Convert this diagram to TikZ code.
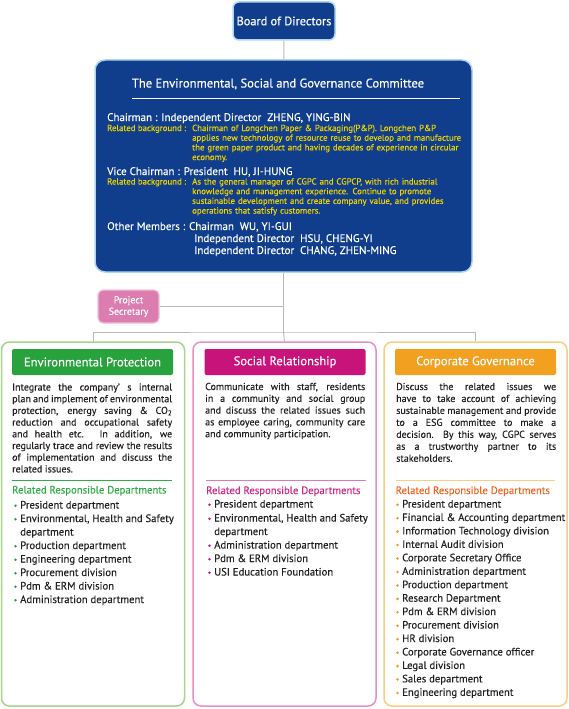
\documentclass[tikz,border=0pt]{standalone}
\usepackage{fontspec}
\setmainfont{PT Sans}[FakeBold=0.25]
\usetikzlibrary{positioning}
\definecolor{navy}{RGB}{16,62,140}
\definecolor{navyedge}{RGB}{175,215,235}
\definecolor{goldtext}{RGB}{240,212,0}
\definecolor{linegray}{RGB}{185,185,185}
\definecolor{ink}{RGB}{35,31,32}
\definecolor{secpink}{RGB}{220,125,175}
\definecolor{secedge}{RGB}{240,190,215}
\definecolor{envbar}{RGB}{40,162,60}
\definecolor{envedge}{RGB}{165,212,140}
\definecolor{envtext}{RGB}{50,172,70}
\definecolor{socbar}{RGB}{200,20,122}
\definecolor{socedge}{RGB}{230,145,192}
\definecolor{soctext}{RGB}{210,40,135}
\definecolor{govbar}{RGB}{242,160,32}
\definecolor{govedge}{RGB}{250,205,130}
\definecolor{govtext}{RGB}{240,100,35}
\definecolor{govdot}{RGB}{242,150,30}

\begin{document}
\begin{tikzpicture}[x=1pt,y=-1pt,
  conn/.style={draw=linegray,line width=0.9pt},
  bluebox/.style={draw=navyedge,fill=navy,line width=1.5pt,text=white},
  outerbox/.style={rounded corners=8pt,line width=1.5pt,minimum width=183pt,minimum height=364pt},
  headbar/.style={rounded corners=2pt,minimum width=161pt,minimum height=26pt,inner sep=0pt,text=white,font=\fontsize{12.6}{14}\selectfont},
  esctext/.style={inner sep=0pt,anchor=base west,text=white,font=\fontsize{11}{12}\selectfont},
  bgtext/.style={inner sep=0pt,anchor=base west,text=goldtext,font=\fontsize{8.8}{9.7}\selectfont},
  desc/.style={inner sep=0pt,anchor=base west,text width=160pt,align=justify,text=ink},
  depthead/.style={inner sep=0pt,anchor=base west,font=\fontsize{10.7}{12}\selectfont},
  item/.style={inner sep=0pt,anchor=base west,text=ink,font=\fontsize{10.7}{13.5}\selectfont}]
\useasboundingbox (0,0) rectangle (568,709);

% top of the chart
\node[bluebox,rounded corners=6pt,minimum width=102pt,minimum height=38pt,font=\fontsize{12.3}{13}\selectfont] (board) at (284,21) {Board of Directors};
\node[bluebox,rounded corners=10pt,minimum width=377pt,minimum height=212pt] (esc) at (283.5,166) {};
\node[inner sep=0pt,anchor=base,text=white,font=\fontsize{12.6}{14}\selectfont] (esctitle) at (278,87.5) {The Environmental, Social and Governance Committee};
\draw[white,line width=0.6pt] (132,98) -- (460,98);

\node[esctext] (chair) at (107,121) {Chairman : Independent Director\ \ ZHENG, YING-BIN};
\node[bgtext] (bglabela) at (107,131) {Related background :};
\node[bgtext,text width=272pt,align=left] (bga) at (192,131) {Chairman of Longchen Paper \& Packaging(P\&P). Longchen P\&P\\applies new technology of resource reuse to develop and manufacture\\the green paper product and having decades of experience in circular\\economy.};
\node[esctext] (vice) at (107,175) {Vice Chairman : President\ \ HU, JI-HUNG};
\node[bgtext] (bglabelb) at (107,184.5) {Related background :};
\node[bgtext,text width=272pt,align=left] (bgb) at (192,184.5) {As the general manager of CGPC and CGPCP, with rich industrial\\knowledge and management experience. Continue to promote\\sustainable development and create company value, and provides\\operations that satisfy customers.};
\node[esctext] (others) at (107,230) {Other Members : Chairman\ \ WU, YI-GUI};
\node[esctext] (membera) at (194,242) {Independent Director\ \ HSU, CHENG-YI};
\node[esctext] (memberb) at (194,254) {Independent Director\ \ CHANG, ZHEN-MING};

\node[draw=secedge,fill=secpink,rounded corners=5pt,line width=1.2pt,minimum width=61pt,minimum height=33pt,inner sep=0pt,text=white,align=center,font=\fontsize{10}{11.5}\selectfont] (secretary) at (128.5,306.5) {Project\\Secretary};

% three committees
\node[outerbox,draw=envedge] (env) at (93,524) {};
\node[outerbox,draw=socedge] (soc) at (284.5,524) {};
\node[outerbox,draw=govedge] (gov) at (475.5,524) {};
\node[headbar,fill=envbar] (envhead) at (92.5,362) {Environmental Protection};
\node[headbar,fill=socbar] (sochead) at (285,362) {Social Relationship};
\node[headbar,fill=govbar] (govhead) at (475.5,362) {Corporate Governance};

\coordinate (bus) at (283.5,332);
\draw[conn] (board) -- (esc);
\draw[conn] (esc) -- (bus);
\draw[conn] (secretary) -- (secretary -| bus);
\draw[conn] (env.north) |- (bus) -| (gov.north);
\draw[conn] (bus) -- (soc.north);

\node[desc,font=\fontsize{10}{11.7}\selectfont] (envdesc) at (12,390.5) {Integrate the company’ s internal\linebreak plan and implement of environmental\linebreak protection, energy saving \& CO\textsubscript{2}\linebreak reduction and occupational safety\linebreak and health etc. In addition, we\linebreak regularly trace and review the results\linebreak of implementation and discuss the\linebreak related issues.};
\node[desc,font=\fontsize{10}{11.8}\selectfont] (socdesc) at (205,390) {Communicate with staff, residents\linebreak in a community and social group\linebreak and discuss the related issues such\linebreak as employee caring, community care\linebreak and community participation.};
\node[desc,font=\fontsize{10}{11.95}\selectfont] (govdesc) at (396,390) {Discuss the related issues we\linebreak have to take account of achieving\linebreak sustainable management and provide\linebreak to a ESG committee to make a\linebreak decision. By this way, CGPC serves\linebreak as a trustworthy partner to its\linebreak stakeholders.};

\draw[envtext,line width=1pt] (12,480) -- (172,480);
\draw[socedge!80!socbar,line width=1pt] (206,480) -- (366,480);
\draw[govedge,line width=1pt] (396,480) -- (555,480);
\node[depthead,text=envtext] (envdept) at (12,493.5) {Related Responsible Departments};
\node[depthead,text=soctext] (socdept) at (206,494) {Related Responsible Departments};
\node[depthead,text=govtext] (govdept) at (395.5,494) {Related Responsible Departments};

% departments
\foreach \y/\t in {508.5/President department,522/{Environmental, Health and Safety},549/Production department,562.5/Engineering department,576/Procurement division,589.5/Pdm \& ERM division,603/Administration department}{
  \fill[envbar] (15.5,\y-2.8) circle (1.4pt);
  \node[item] at (20,\y) {\t};
}
\node[item] (envcont) at (20,535.5) {department};

\foreach \y/\t in {507.5/President department,521.5/{Environmental, Health and Safety},548.5/Administration department,562/Pdm \& ERM division,575.5/USI Education Foundation}{
  \fill[socbar] (209.5,\y-2.8) circle (1.4pt);
  \node[item] at (214,\y) {\t};
}
\node[item] (soccont) at (214,535) {department};

\foreach \t [count=\i] in {President department,Financial \& Accounting department,Information Technology division,Internal Audit division,Corporate Secretary Office,Administration department,Production department,Research Department,Pdm \& ERM division,Procurement division,HR division,Corporate Governance officer,Legal division,Sales department,Engineering department}{
  \fill[govdot] (397.5,{507.5+13.45*(\i-1)-2.8}) circle (1.4pt);
  \node[item] at (402,{507.5+13.45*(\i-1)}) {\t};
}
\end{tikzpicture}
\end{document}
